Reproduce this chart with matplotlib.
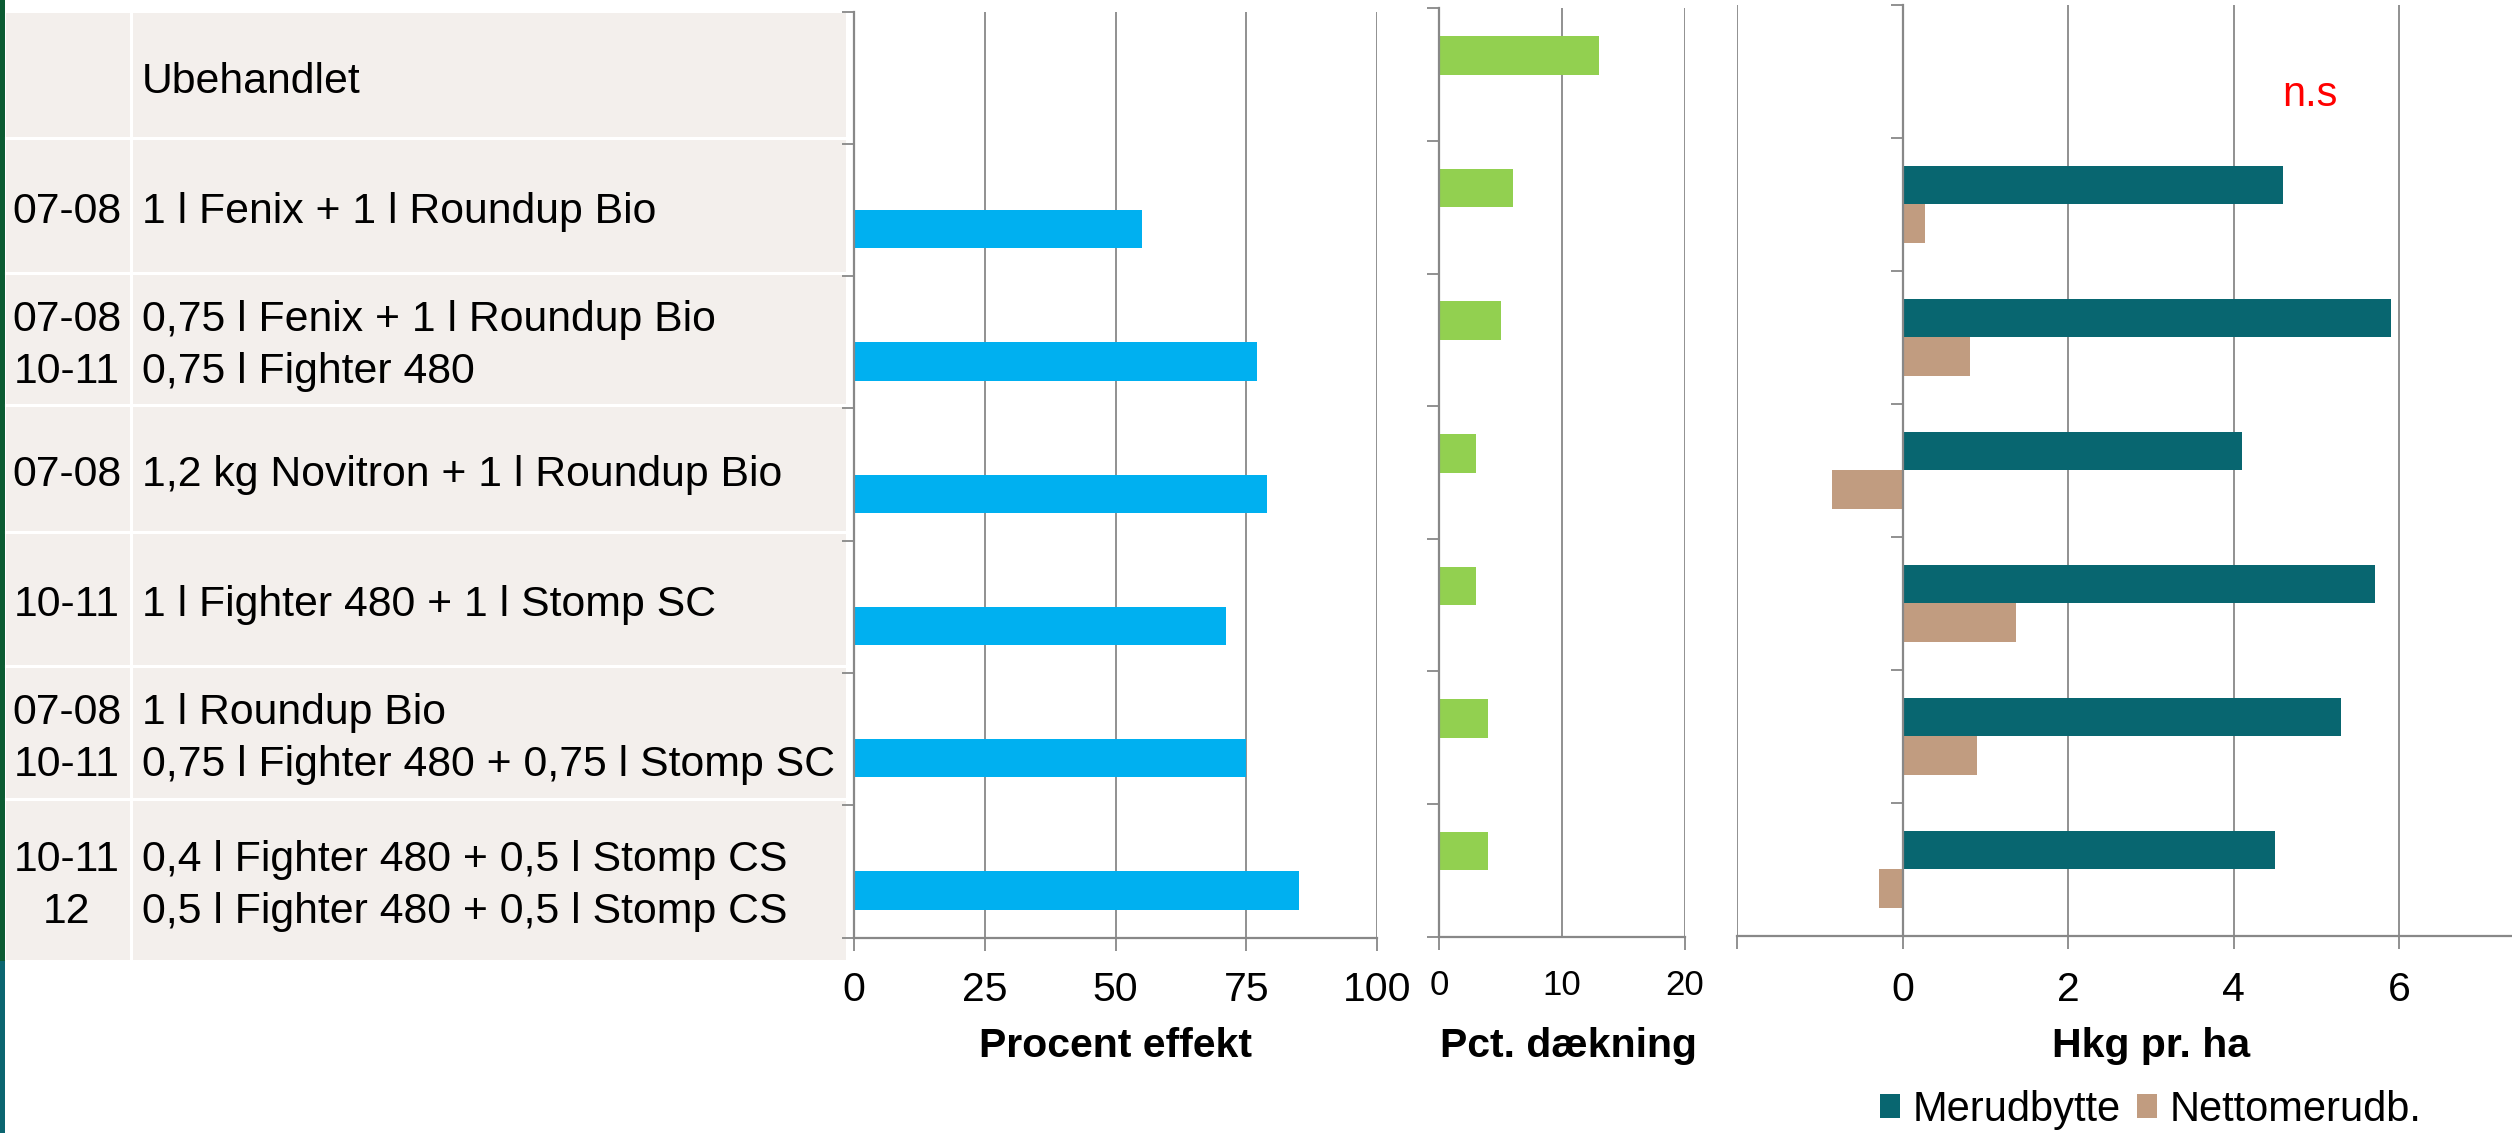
#### Ukrudtsforsøg: effekt, dækning og merudbytte ####

import numpy as np
import matplotlib.pyplot as plt
from matplotlib.patches import Rectangle

plt.rcParams['font.family'] = ['Liberation Sans', 'DejaVu Sans']

# Data #

codes = [[""], ["07-08"], ["07-08", "10-11"], ["07-08"], ["10-11"],
         ["07-08", "10-11"], ["10-11", "12"]]
treatments = [["Ubehandlet"],
              ["1 l Fenix + 1 l Roundup Bio"],
              ["0,75 l Fenix + 1 l Roundup Bio", "0,75 l Fighter 480"],
              ["1,2 kg Novitron + 1 l Roundup Bio"],
              ["1 l Fighter 480 + 1 l Stomp SC"],
              ["1 l Roundup Bio", "0,75 l Fighter 480 + 0,75 l Stomp SC"],
              ["0,4 l Fighter 480 + 0,5 l Stomp CS", "0,5 l Fighter 480 + 0,5 l Stomp CS"]]

effekt = [np.nan, 55, 77, 79, 71, 75, 85]
daekning = [13.0, 6.0, 5.0, 3.0, 3.0, 4.0, 4.0]
merudbytte = [np.nan, 4.6, 5.9, 4.1, 5.7, 5.3, 4.5]
netto = [np.nan, 0.27, 0.82, -0.85, 1.37, 0.9, -0.28]

ticks1 = [0, 25, 50, 75, 100]
ticks2 = [0, 10, 20]
ticks3 = [-2, 0, 2, 4, 6]
labels3 = ["", "0", "2", "4", "6"]

# Colours #

blue = '#00B0F0'
green = '#92D050'
teal = '#086670'
tan = '#C19C80'
gray = '#888888'
table_bg = '#F3EFEC'

# Figure in pixel units #

W, H = 2512, 1133
fig = plt.figure(figsize=(W / 100, H / 100), dpi=100)

bg = fig.add_axes([0, 0, 1, 1])
bg.set_xlim(0, W)
bg.set_ylim(H, 0)
bg.axis('off')
bg.set_zorder(-1)


def px_axes(x0, y0, x1, y1):
    return fig.add_axes([x0 / W, 1 - y1 / H, (x1 - x0) / W, (y1 - y0) / H])


# Table on the left #

row_edges = [12.7, 138, 273, 405, 531.5, 666, 799, 960]
tab_left, tab_right, col_sep = 6, 845.6, 131

bg.add_patch(Rectangle((0, 0), 4.7, 961, color='#0B5B32', lw=0))
bg.add_patch(Rectangle((0, 961), 4.7, H - 961, color='#0B6570', lw=0))
bg.add_patch(Rectangle((tab_left, row_edges[0]), tab_right - tab_left,
                       row_edges[-1] - row_edges[0], color=table_bg, lw=0))
for e in row_edges[1:-1]:
    bg.plot([tab_left, tab_right], [e, e], color='white', lw=2.2)
bg.plot([col_sep, col_sep], [row_edges[0], row_edges[-1]], color='white', lw=2.2)

fs_tab = 30.8
half_cap = 0.68 * fs_tab * 100 / 72 / 2
line_gap = 52
for i in range(len(treatments)):
    centre = (row_edges[i] + row_edges[i + 1]) / 2 + 3
    n = len(treatments[i])
    for j in range(n):
        yb = centre + (j - (n - 1) / 2) * line_gap + half_cap
        bg.text(142, yb, treatments[i][j], fontsize=fs_tab, va='baseline', ha='left')
        if j < len(codes[i]):
            bg.text(67, yb, codes[i][j], fontsize=fs_tab, va='baseline', ha='center')


# Chart panels #

y = np.arange(len(treatments))
bh = 0.29
off = 0.145


def style(ax, xlim, xticks, xlabels, fs, pad):
    ax.set_xlim(*xlim)
    ax.set_ylim(6.5, -0.5)
    ax.set_xticks(xticks)
    ax.set_xticklabels(xlabels, fontsize=fs)
    ax.set_yticks(np.arange(-0.5, 7, 1))
    ax.set_yticklabels([])
    ax.tick_params(axis='y', length=8.6, width=1.3, color=gray, direction='out')
    ax.tick_params(axis='x', length=9.4, width=1.3, color=gray, pad=pad)
    ax.grid(axis='x', color=gray, lw=1.3)
    ax.set_axisbelow(True)
    for s in ['top', 'right']:
        ax.spines[s].set_visible(False)
    for s in ['left', 'bottom']:
        ax.spines[s].set_color(gray)
        ax.spines[s].set_linewidth(1.6)
    ax.patch.set_alpha(0)


ax1 = px_axes(854, 11.5, 1377.3, 937.5)
ax1.barh(y + off, effekt, height=bh, color=blue, lw=0)
style(ax1, (0, 100), ticks1, [str(t) for t in ticks1], 29.5, 15)

ax2 = px_axes(1439, 8.4, 1685, 936.6)
ax2.barh(y - off, daekning, height=bh, color=green, lw=0)
style(ax2, (0, 20), ticks2, [str(t) for t in ticks2], 25, 14)
ax2.xaxis.get_major_ticks()[1].tick1line.set_visible(False)

ax3 = px_axes(1737, 4.6, 2512, 936)
ax3.barh(y - off, merudbytte, height=bh, color=teal, lw=0, label='Merudbytte')
ax3.barh(y + off, netto, height=bh, color=tan, lw=0, label='Nettomerudb.')
style(ax3, (-2, -2 + (2512 - 1737) / 82.8), ticks3, labels3, 29.5, 16)
ax3.spines['left'].set_position(('data', 0))
ax3.text(4.92, 0.18, 'n.s', color='red', fontsize=30, ha='center', va='center')

# Axis titles #

for ax, title, xc in [(ax1, 'Procent effekt', 1115.6),
                      (ax2, 'Pct. dækning', 1568),
                      (ax3, 'Hkg pr. ha', 2151)]:
    ax.set_xlabel(title, fontsize=29.5, fontweight='bold')
    ax.xaxis.set_label_coords(xc, 1057, transform=bg.transData)
    ax.xaxis.label.set_va('baseline')

# Legend #

fig.legend(loc='center', bbox_to_anchor=(2151, 1110), bbox_transform=bg.transData,
           ncol=2, frameon=False, fontsize=30, handlelength=0.48, handleheight=0.5,
           handletextpad=0.3, columnspacing=0.4, borderaxespad=0, borderpad=0)

fig.savefig('out.png', dpi=100)
